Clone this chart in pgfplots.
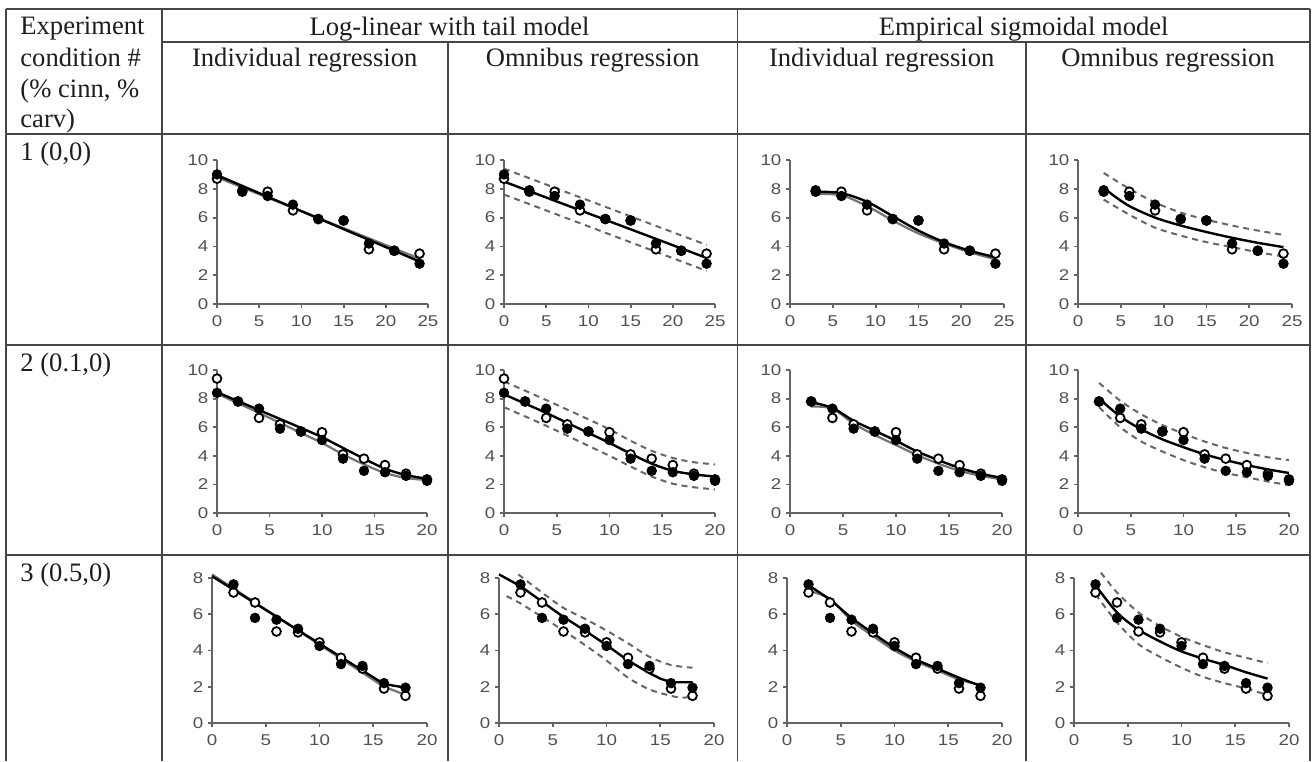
\documentclass[border=0pt]{standalone}
\usepackage{fontspec}
\setmainfont{Liberation Serif}
\newfontfamily\tickfont[FakeStretch=1.2]{Liberation Sans}
\usepackage{pgfplots}
\usepackage{pgfplotstable}
\pgfplotsset{compat=1.18}

\definecolor{axgray}{RGB}{100,100,100}
\definecolor{lblgray}{RGB}{80,80,80}
\definecolor{rulegray}{RGB}{70,70,70}
\definecolor{txt}{RGB}{30,30,30}

% measured points, one table per experiment condition
\pgfplotstableread{
x  f    o
0  9.0  8.7
3  7.9  7.8
6  7.5  7.8
9  6.9  6.5
12 5.9  5.9
15 5.8  5.8
18 4.2  3.8
21 3.7  3.7
24 2.8  3.5
}\condA
\pgfplotstableread{
x  f    o
0  8.4  9.4
2  7.8  7.8
4  7.3  6.65
6  5.9  6.2
8  5.7  5.7
10 5.1  5.65
12 3.8  4.1
14 2.95 3.8
16 2.85 3.35
18 2.6  2.75
20 2.25 2.35
}\condB
\pgfplotstableread{
x  f    o
2  7.65 7.2
4  5.8  6.65
6  5.7  5.05
8  5.2  5.0
10 4.25 4.45
12 3.25 3.6
14 3.15 3.0
16 2.2  1.9
18 1.95 1.5
}\condC

\pgfplotsset{
  panel/.style={scale only axis, axis lines=left,
    axis line style={-, draw=axgray, line width=1pt},
    tick align=outside, major tick length=2pt,
    every tick/.style={draw=axgray, line width=0.9pt},
    clip=false, xmin=0, ymin=0, anchor=south west,
    /pgf/number format/assume math mode=true,
    ticklabel style={font=\tickfont\fontsize{7.8}{9}\selectfont, text=lblgray},
    xticklabel style={yshift=-0.5pt},
    yticklabel style={xshift=1.2pt}},
  rowone/.style={panel, xmax=25, ymax=10, xtick={0,5,...,25}, ytick={0,2,...,10}, height=72pt},
  rowtwo/.style={panel, xmax=20, ymax=10, xtick={0,5,...,20}, ytick={0,2,...,10}, height=71.5pt},
  rowthree/.style={panel, xmax=20, ymax=8, xtick={0,5,...,20}, ytick={0,2,...,8}, height=72.5pt},
  fit/.style={black, line width=1.2pt, no marks},
  fittwo/.style={black!55, line width=1.1pt, no marks},
  band/.style={black!60, line width=1pt, dash pattern=on 3pt off 2.4pt, no marks},
  filled/.style={only marks, mark=*, mark size=2.4pt, mark options={fill=black, draw=black}},
  open/.style={only marks, mark=*, mark size=2.2pt, mark options={fill=white, draw=black, line width=0.9pt}},
}

\newcommand{\points}[2][0]{%
  \addplot[open, restrict x to domain=#1:30] table[x=x, y=o] {#2};
  \addplot[filled, restrict x to domain=#1:30] table[x=x, y=f] {#2};}

\begin{document}
\begin{tikzpicture}
\begin{scope}[x=0.5pt, y=-0.5pt]
  \path[use as bounding box] (0,0) rectangle (1312,761);
  \begin{scope}[draw=rulegray, line width=0.9pt]
    \draw (6,9) -- (1310,9);
    \draw (161.7,41.7) -- (1310,41.7);
    \draw (6,134.3) -- (1310,134.3);
    \draw (6,345) -- (1310,345);
    \draw (6,555) -- (1310,555);
    \draw (6,9) -- (6,761);
    \draw (161.7,9) -- (161.7,761);
    \draw (737.5,9) -- (737.5,761);
    \draw (1310,9) -- (1310,761);
    \draw (447.7,41.7) -- (447.7,761);
    \draw (1026,41.7) -- (1026,761);
  \end{scope}
  \begin{scope}[every node/.style={inner sep=0pt, text=txt, font=\fontsize{13.3}{16}\selectfont}]
    \node[anchor=base west] at (20,34.5) {Experiment};
    \node[anchor=base west] at (20,66) {condition \#};
    \node[anchor=base west] at (20,97) {(\% cinn, \%};
    \node[anchor=base west] at (20,127) {carv)};
    \node[anchor=base] at (449.6,35) {Log-linear with tail model};
    \node[anchor=base] at (1023.7,35) {Empirical sigmoidal model};
    \node[anchor=base] at (304.7,66) {Individual regression};
    \node[anchor=base] at (592.6,66) {Omnibus regression};
    \node[anchor=base] at (881.7,66) {Individual regression};
    \node[anchor=base] at (1168,66) {Omnibus regression};
    \node[anchor=base west] at (20,160) {1 (0,0)};
    \node[anchor=base west] at (20,371) {2 (0.1,0)};
    \node[anchor=base west] at (20,581) {3 (0.5,0)};
  \end{scope}
\end{scope}

% ---- condition 1 ----
\begin{axis}[rowone, at={(217*0.5pt,-304*0.5pt)}, width=105.5pt]
  \addplot[fittwo] coordinates {(0,8.8) (24,3.15)};
  \addplot[fit] coordinates {(0,8.95) (24,2.95)};
  \points{\condA}
\end{axis}
\begin{axis}[rowone, at={(504*0.5pt,-304*0.5pt)}, width=105.5pt]
  \addplot[band] coordinates {(0,9.4) (24,4.1)};
  \addplot[band] coordinates {(0,7.6) (24,2.3)};
  \addplot[fit] coordinates {(0,8.5) (24,3.2)};
  \points{\condA}
\end{axis}
\begin{axis}[rowone, at={(790*0.5pt,-304*0.5pt)}, width=107pt]
  \addplot[fittwo, smooth] coordinates {(3,7.65) (6,7.55) (9,6.8) (12,5.8) (15,4.9) (18,4.2) (21,3.6) (24,3.1)};
  \addplot[fit, smooth] coordinates {(3,7.8) (6,7.7) (9,7.1) (12,6.1) (15,5.1) (18,4.3) (21,3.7) (24,3.25)};
  \points[2]{\condA}
\end{axis}
\begin{axis}[rowone, at={(1078*0.5pt,-304*0.5pt)}, width=107pt]
  \addplot[band, smooth] coordinates {(3,9.1) (6,8.0) (9,7.05) (12,6.35) (15,5.85) (18,5.45) (21,5.1) (24,4.8)};
  \addplot[band, smooth] coordinates {(3,7.25) (6,6.2) (9,5.3) (12,4.75) (15,4.3) (18,3.95) (21,3.6) (24,3.3)};
  \addplot[fit, smooth] coordinates {(3,8.1) (4,7.6) (6,6.8) (9,6.0) (12,5.45) (15,5.0) (18,4.6) (21,4.25) (24,3.95)};
  \points[2]{\condA}
\end{axis}

% ---- condition 2 ----
\begin{axis}[rowtwo, at={(217*0.5pt,-513*0.5pt)}, width=105pt]
  \addplot[fittwo, smooth] coordinates {(0,8.35) (4,7.0) (8,5.6) (10,4.9) (12,4.1) (14,3.4) (16,2.8) (18,2.45) (20,2.3)};
  \addplot[fit, smooth] coordinates {(0,8.45) (4,7.2) (8,5.95) (10,5.3) (12,4.55) (14,3.8) (16,3.1) (18,2.65) (20,2.4)};
  \points{\condB}
\end{axis}
\begin{axis}[rowtwo, at={(504*0.5pt,-513*0.5pt)}, width=105.5pt]
  \addplot[band, smooth] coordinates {(0,9.2) (4,7.9) (8,6.55) (10,5.85) (12,5.05) (14,4.35) (16,3.85) (18,3.55) (20,3.4)};
  \addplot[band, smooth] coordinates {(0,7.4) (4,6.1) (8,4.7) (10,4.0) (12,3.25) (14,2.55) (16,2.05) (18,1.8) (20,1.65)};
  \addplot[fit, smooth] coordinates {(0,8.3) (2,7.65) (4,7.0) (6,6.3) (8,5.6) (10,4.9) (12,4.15) (14,3.45) (16,2.95) (18,2.7) (20,2.55)};
  \points{\condB}
\end{axis}
\begin{axis}[rowtwo, at={(790*0.5pt,-513*0.5pt)}, width=106pt]
  \addplot[fittwo, smooth] coordinates {(2,7.45) (4,7.3) (6,6.25) (8,5.45) (10,4.75) (12,4.05) (14,3.45) (16,2.95) (18,2.6) (20,2.35)};
  \addplot[fit, smooth] coordinates {(2,7.75) (4,7.35) (6,6.45) (8,5.75) (10,5.05) (12,4.3) (14,3.7) (16,3.15) (18,2.75) (20,2.45)};
  \points[1]{\condB}
\end{axis}
\begin{axis}[rowtwo, at={(1078*0.5pt,-513*0.5pt)}, width=105.5pt]
  \addplot[band, smooth] coordinates {(2,9.1) (4,7.85) (6,6.9) (8,6.15) (10,5.55) (12,5.0) (14,4.55) (16,4.2) (18,3.9) (20,3.7)};
  \addplot[band, smooth] coordinates {(2,7.4) (4,6.0) (6,5.0) (8,4.3) (10,3.7) (12,3.2) (14,2.8) (16,2.5) (18,2.2) (20,1.95)};
  \addplot[fit, smooth] coordinates {(2,8.0) (4,6.75) (6,5.85) (8,5.15) (10,4.6) (12,4.1) (14,3.7) (16,3.35) (18,3.05) (20,2.8)};
  \points[1]{\condB}
\end{axis}

% ---- condition 3 ----
\begin{axis}[rowthree, at={(212*0.5pt,-723*0.5pt)}, width=107.5pt]
  \addplot[fittwo] coordinates {(0,8.2) (16,2.0) (18,1.55)};
  \addplot[fit] coordinates {(0,8.1) (16,2.15) (18,1.95)};
  \points{\condC}
\end{axis}
\begin{axis}[rowthree, at={(499*0.5pt,-723*0.5pt)}, width=107.5pt]
  \addplot[band, smooth] coordinates {(1.8,8.2) (4,7.2) (6,6.35) (8,5.75) (10,5.1) (12,4.4) (14,3.65) (16,3.2) (18,3.05)};
  \addplot[band, smooth] coordinates {(0.7,7.0) (2,6.6) (4,5.85) (6,5.1) (8,4.3) (10,3.45) (12,2.5) (14,1.85) (16,1.5) (17,1.4) (18,1.45)};
  \addplot[fit] coordinates {(0,8.2) (2,7.55) (4,6.7) (6,5.85) (8,5.1) (10,4.3) (12,3.45) (14,2.75) (15,2.45) (16,2.25) (18,2.25)};
  \points{\condC}
\end{axis}
\begin{axis}[rowthree, at={(787*0.5pt,-723*0.5pt)}, width=107.5pt]
  \addplot[fittwo, smooth] coordinates {(2,7.3) (4,6.85) (6,5.65) (8,4.8) (10,4.0) (12,3.4) (14,2.9) (16,2.4) (18,2.1)};
  \addplot[fit, smooth] coordinates {(2,7.6) (4,6.8) (6,5.8) (8,4.95) (10,4.15) (12,3.5) (14,3.0) (16,2.5) (18,2.05)};
  \points{\condC}
\end{axis}
\begin{axis}[rowthree, at={(1074*0.5pt,-723*0.5pt)}, width=107.5pt]
  \addplot[band, smooth] coordinates {(2.5,8.3) (4,7.2) (6,6.1) (8,5.35) (10,4.75) (12,4.3) (14,3.9) (16,3.6) (18,3.3)};
  \addplot[band, smooth] coordinates {(2,7.1) (4,5.55) (6,4.35) (8,3.65) (10,3.05) (12,2.55) (14,2.2) (16,1.9) (18,1.55)};
  \addplot[fit, smooth] coordinates {(2,7.6) (4,6.1) (6,5.15) (8,4.5) (10,3.95) (12,3.55) (14,3.2) (16,2.8) (18,2.45)};
  \points{\condC}
\end{axis}
\end{tikzpicture}
\end{document}
